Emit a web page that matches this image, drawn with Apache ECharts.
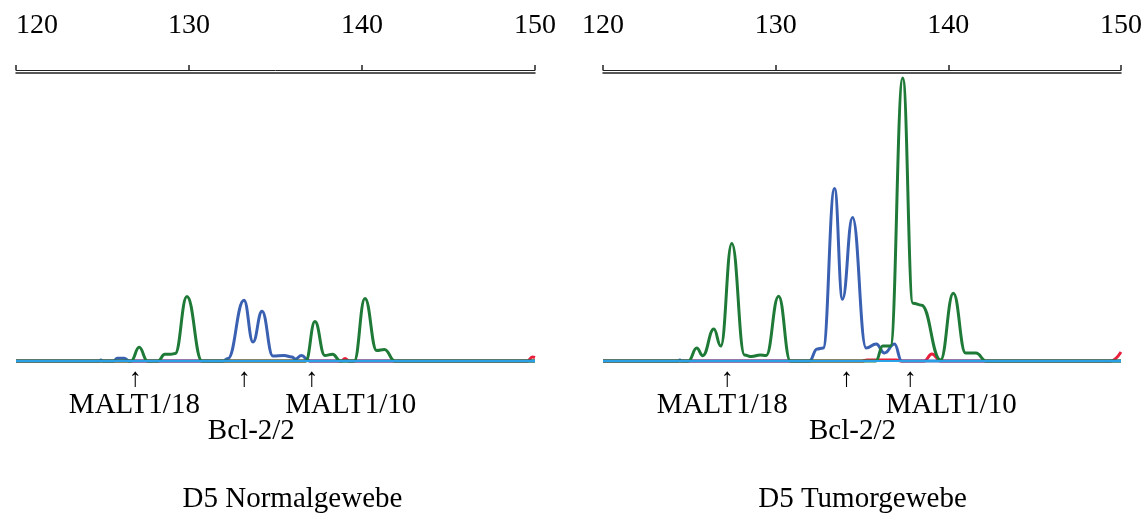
<!DOCTYPE html>
<html>
<head>
<meta charset="utf-8">
<title>D5 Normalgewebe / Tumorgewebe</title>
<style>
  html, body { margin: 0; padding: 0; background: #fff; }
  #chart { width: 1145px; height: 532px; }
</style>
<script src="https://cdn.jsdelivr.net/npm/echarts@6/dist/echarts.min.js"></script>
</head>
<body>
<div id="chart"></div>
<script>

var sizeTicks = [120, 130, 140, 150];
var panelTitles = ['D5 Normalgewebe', 'D5 Tumorgewebe'];
var markerNames = ['MALT1/18', 'Bcl-2/2', 'MALT1/10'];

// Lage der Pfeile (bp) je Panel
var arrowsLeft = [126.9, 133.2, 137.1];
var arrowsRight = [127.2, 134.1, 137.8];

// --- Normalgewebe ---
var leftGreen = [
    [120, 0], [126.65, 0], [127.12, 137], [127.6, 0],
    [128.2, 0], [128.6, 67], [128.95, 67], [129.2, 75], [129.88, 647], [130.75, 0],
    [136.75, 0], [137.28, 396], [137.85, 55], [138.3, 67], [138.75, 0],
    [139.55, 0], [140.17, 627], [140.85, 105], [141.3, 115], [141.9, 0], [150, 0]
];
var leftBlue = [
    [120, 0], [124.82, 0], [124.91, 10], [125.0, 0], [125.65, 0], [125.85, 27], [126.25, 27],
    [126.55, 0], [131.95, 0], [132.25, 25], [133.18, 610], [133.7, 190], [134.22, 500],
    [134.85, 50], [135.5, 55], [135.95, 40], [136.15, 20], [136.5, 55], [136.95, 0], [150, 0]
];
var leftRed = [
    [120, 0], [136.7, 0], [136.85, 12], [137.0, 0], [138.8, 0], [139.02, 25], [139.25, 0],
    [149.55, 0], [149.85, 40], [150, 35]
];

// --- Tumorgewebe ---
var rightGreen = [
    [120, 0], [124.95, 0], [125.43, 130], [125.78, 53], [126.42, 320], [126.82, 150],
    [127.46, 1180], [128.2, 60], [128.6, 45], [129.1, 60], [129.45, 55], [130.17, 650],
    [130.85, 0],
    [135.8, 0], [136.2, 150], [136.65, 150], [137.36, 2840], [137.95, 580], [138.45, 560],
    [139.55, 10], [140.29, 680], [141.0, 80], [141.6, 80], [142.2, 0], [150, 0]
];
var rightBlue = [
    [120, 0], [124.35, 0], [124.45, 10], [124.55, 0], [131.95, 0], [132.4, 120], [132.75, 130],
    [133.41, 1730], [133.87, 620], [134.45, 1440], [135.24, 130], [135.82, 170], [136.3, 80],
    [136.88, 170], [137.3, 0], [150, 0]
];
var rightRed = [
    [120, 0], [135.0, 0], [135.3, 10], [137.0, 10], [137.3, 0], [138.6, 0], [139.05, 70],
    [139.55, 0], [149.4, 0], [150, 90]
];
var baseline = [[120, 0], [150, 0]];

var FONT = '"Liberation Serif", "Times New Roman", serif';
var COLORS = { green: '#1f7a38', blue: '#3a60b2', cyan: '#2aa0e6', red: '#e8203c' };

var grids = [
    { left: 16, top: 73, width: 519, height: 289 },
    { left: 603, top: 73, width: 519, height: 289 }
];

function topAxes(gi) {
    return [{
        gridIndex: gi,
        type: 'value',
        min: sizeTicks[0],
        max: sizeTicks[sizeTicks.length - 1],
        interval: 10,
        position: 'top',
        offset: 3,
        axisLine: { onZero: false, lineStyle: { color: '#222', width: 1 } },
        axisTick: { show: true, length: 5, lineStyle: { color: '#222', width: 1.5 } },
        axisLabel: {
            color: '#000', fontSize: 28, fontFamily: FONT, margin: 30,
            alignMinLabel: gi === 0 ? 'left' : 'center'
        },
        splitLine: { show: false }
    }, {
        gridIndex: gi,
        type: 'value',
        min: sizeTicks[0],
        max: sizeTicks[sizeTicks.length - 1],
        position: 'top',
        offset: 0,
        axisLine: { onZero: false, lineStyle: { color: '#222', width: 1.5 } },
        axisTick: { show: false },
        axisLabel: { show: false },
        splitLine: { show: false }
    }];
}

function trace(data, color, xi, yi, width) {
    return {
        type: 'line',
        data: data,
        xAxisIndex: xi,
        yAxisIndex: yi,
        showSymbol: false,
        smooth: 0.45,
        smoothMonotone: 'x',
        silent: true,
        lineStyle: { color: color, width: width || 3 }
    };
}

var chart = echarts.init(document.getElementById('chart'), null, { renderer: 'canvas' });

chart.setOption({
    animation: false,
    backgroundColor: '#fff',
    grid: grids,
    xAxis: topAxes(0).concat(topAxes(1)),
    yAxis: [
        { gridIndex: 0, type: 'value', min: -10, max: 2890, show: false },
        { gridIndex: 1, type: 'value', min: -10, max: 2890, show: false }
    ],
    series: [
        trace(leftRed, COLORS.red, 0, 0),
        trace(leftBlue, COLORS.blue, 0, 0),
        trace(leftGreen, COLORS.green, 0, 0),
        trace(baseline, COLORS.cyan, 0, 0, 2),
        trace(rightRed, COLORS.red, 2, 1),
        trace(rightBlue, COLORS.blue, 2, 1),
        trace(rightGreen, COLORS.green, 2, 1),
        trace(baseline, COLORS.cyan, 2, 1, 2)
    ]
});

// Beschriftung unter den Panels: Pfeile, Markernamen, Titel
function txt(text, x, y, size) {
    return {
        type: 'text',
        x: x,
        y: y,
        silent: true,
        style: {
            text: text,
            fill: '#000',
            font: size + 'px ' + FONT,
            textAlign: 'center',
            textVerticalAlign: 'middle',
            align: 'center',
            verticalAlign: 'middle'
        }
    };
}

// horizontale Versätze der Markernamen gegenüber ihren Pfeilen, Titelversatz
var labelShift = [[-1, 7, 39, 17], [-5, 6, 41, 0]];
var elements = [];
[arrowsLeft, arrowsRight].forEach(function(arrows, p) {
    var px = arrows.map(function(bp) {
        return chart.convertToPixel({ xAxisIndex: p * 2 }, bp);
    });
    px.forEach(function(x) { elements.push(txt('\u2191', x, 379, 26)); });
    elements.push(txt(markerNames[0], px[0] + labelShift[p][0], 405, 29));
    elements.push(txt(markerNames[1], px[1] + labelShift[p][1], 431, 29));
    elements.push(txt(markerNames[2], px[2] + labelShift[p][2], 405, 29));
    var g = grids[p];
    elements.push(txt(panelTitles[p], g.left + g.width / 2 + labelShift[p][3], 499, 29));
});
chart.setOption({ graphic: elements });
</script>
</body>
</html>
